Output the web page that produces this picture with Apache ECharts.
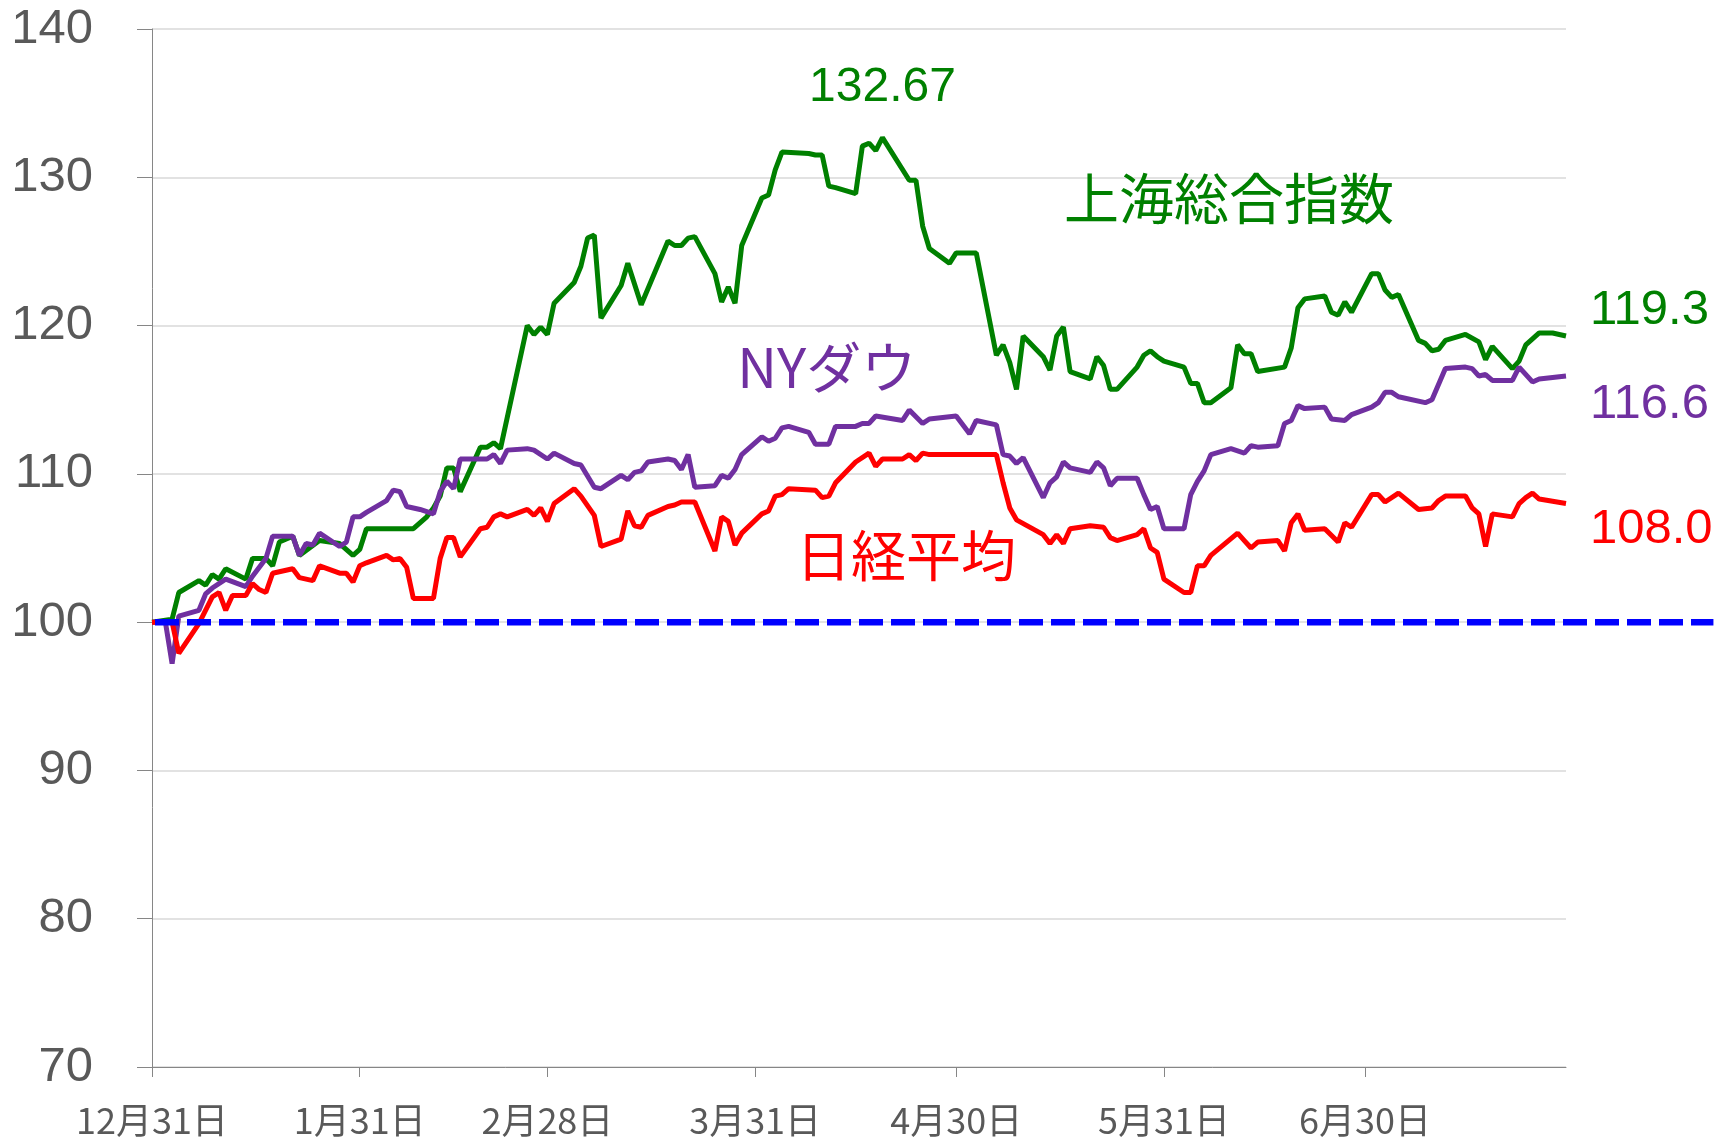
<!DOCTYPE html>
<html>
<head>
<meta charset="utf-8">
<script src="https://cdn.jsdelivr.net/npm/echarts@6/dist/echarts.min.js"></script>
<style>
  html, body { margin: 0; padding: 0; background: #fff; }
  #chart { width: 1729px; height: 1138px; }
</style>
</head>
<body>
<div id="chart"></div>
<script>
// x軸は12月31日からの経過日数
const tickDays = [0, 31, 59, 90, 120, 151, 181];
const tickLabels = ['12月31日', '1月31日', '2月28日', '3月31日', '4月30日', '5月31日', '6月30日'];

// 上海総合指数
const shDays = [0,3,4,7,8,9,10,11,14,15,17,18,19,21,22,25,28,30,31,32,39,41,42,43,44,45,46,49,50,51,52,56,57,58,59,60,63,64,65,66,67,70,71,73,77,78,79,80,81,84,85,86,87,88,91,92,93,94,98,99,100,101,102,105,106,107,108,109,113,114,115,116,119,120,123,126,127,128,129,130,133,134,135,136,137,140,141,142,143,144,147,148,149,150,151,154,155,156,157,158,161,162,163,164,165,169,170,171,172,175,176,177,178,179,182,183,184,185,186,189,190,191,192,193,196,198,199,200,203,204,205,207,209,211];
const shVals = [100,100.2,102.0,102.8,102.5,103.2,102.9,103.6,102.9,104.3,104.3,103.8,105.4,105.8,104.5,105.5,105.3,104.5,104.9,106.3,106.3,107.1,107.7,108.5,110.4,110.4,108.8,111.8,111.8,112.1,111.7,120.0,119.4,119.9,119.4,121.5,122.9,124.0,125.9,126.1,120.5,122.7,124.2,121.4,125.7,125.4,125.4,125.9,126.0,123.5,121.6,122.6,121.5,125.4,128.6,128.8,130.5,131.7,131.6,131.5,131.5,129.4,129.3,128.9,132.1,132.3,131.8,132.67,129.8,129.8,126.7,125.2,124.2,124.9,124.9,118.0,118.7,117.5,115.7,119.3,117.9,117.0,119.3,119.9,116.9,116.4,117.9,117.3,115.7,115.7,117.2,118.0,118.3,117.9,117.6,117.2,116.1,116.1,114.8,114.8,115.8,118.7,118.1,118.1,116.9,117.2,118.5,121.2,121.8,122.0,120.9,120.7,121.6,120.9,123.5,123.5,122.4,121.9,122.1,119.0,118.8,118.3,118.4,119.0,119.4,118.9,117.7,118.6,117.1,117.6,118.7,119.5,119.5,119.3];

// NYダウ
const dwDays = [0,2,3,4,7,8,9,11,14,15,17,18,21,22,23,24,25,28,29,30,31,32,35,36,37,38,40,42,43,44,45,46,50,51,52,53,56,57,59,60,63,64,66,67,70,71,72,73,74,77,78,79,80,81,84,85,86,87,88,91,92,93,94,95,98,99,101,102,105,106,107,108,112,113,115,116,120,122,123,126,127,128,129,130,133,134,135,136,137,140,141,142,143,144,147,148,149,150,151,154,155,156,157,158,161,163,164,165,168,169,170,171,172,175,176,178,179,182,183,184,185,186,190,191,193,196,197,198,199,200,203,204,206,207,211];
const dwVals = [100,100.0,97.2,100.4,100.8,101.9,102.3,102.9,102.4,103.1,104.3,105.8,105.8,104.5,105.3,105.2,106.0,105.1,105.4,107.1,107.1,107.4,108.2,108.9,108.8,107.8,107.6,107.3,108.8,109.5,109.0,111.0,111.0,111.3,110.7,111.6,111.7,111.6,111.0,111.4,110.7,110.6,109.1,109.0,109.9,109.6,110.1,110.2,110.8,111.0,110.9,110.3,111.3,109.1,109.2,109.9,109.7,110.3,111.3,112.5,112.2,112.4,113.1,113.2,112.8,112.0,112.0,113.2,113.2,113.4,113.4,113.9,113.6,114.3,113.4,113.7,113.9,112.7,113.6,113.3,111.3,111.2,110.7,111.1,108.4,109.4,109.8,110.8,110.4,110.1,110.8,110.4,109.2,109.7,109.7,108.6,107.6,107.8,106.3,106.3,108.6,109.5,110.2,111.3,111.7,111.4,111.9,111.8,111.9,113.4,113.6,114.6,114.4,114.5,113.7,113.6,114.0,114.5,114.8,115.5,115.5,115.2,114.8,115.0,117.1,117.2,117.1,116.6,116.7,116.3,116.3,117.2,116.2,116.4,116.6];

// 日経平均
const nkDays = [0,3,4,7,9,10,11,12,14,15,16,17,18,21,22,24,25,28,29,30,31,32,35,36,37,38,39,42,43,44,45,46,49,50,51,52,53,56,57,58,59,60,63,64,66,67,70,71,72,73,74,77,78,79,81,84,85,86,87,88,91,92,93,94,95,99,100,101,102,105,107,108,109,112,113,114,115,116,126,127,128,129,133,134,135,136,137,140,142,143,144,147,148,149,150,151,154,155,156,157,158,162,163,164,165,168,169,170,171,172,175,177,178,179,182,183,184,186,189,191,192,193,196,197,198,199,200,203,204,205,206,207,211];
const nkVals = [100,100,97.9,99.9,101.7,102.0,100.8,101.8,101.8,102.6,102.2,102.0,103.3,103.6,103.0,102.8,103.8,103.3,103.3,102.7,103.8,104.0,104.5,104.2,104.3,103.7,101.6,101.6,104.3,105.7,105.7,104.4,106.3,106.4,107.1,107.3,107.1,107.6,107.2,107.7,106.8,108.0,109.0,108.5,107.2,105.1,105.6,107.5,106.5,106.4,107.2,107.8,107.9,108.1,108.1,104.8,107.1,106.8,105.2,106.0,107.3,107.5,108.5,108.6,109.0,108.9,108.4,108.5,109.4,110.8,111.4,110.5,111.0,111.0,111.3,110.9,111.4,111.3,111.3,109.4,107.7,106.9,105.9,105.3,105.9,105.3,106.3,106.5,106.4,105.7,105.5,105.9,106.3,105.0,104.7,102.9,102.0,102.0,103.8,103.8,104.5,106.0,105.5,105.0,105.4,105.5,104.8,106.7,107.3,106.2,106.3,105.4,106.7,106.4,108.6,108.6,108.1,108.7,107.6,107.7,108.2,108.5,108.5,107.7,107.3,105.1,107.3,107.1,108.0,108.4,108.7,108.3,108.0];

// 基準線(100) ― プロット右端より先まで伸びる
const baseDays = [0, 233];
const baseVals = [100, 100];

const pair = (days, vals) => days.map((d, i) => [d, vals[i]]);

const NUM_FONT = 'Liberation Sans, Arial, sans-serif';
const JP_FONT = 'Noto Sans CJK JP, sans-serif';

// 系列名のラベル(データ座標に置く)
const nameMark = (text, color, coord) => ({
  coord,
  symbol: 'rect',
  symbolSize: 1,
  itemStyle: { color: 'transparent' },
  label: {
    show: true, position: 'inside', formatter: text,
    color, fontSize: 55, fontFamily: JP_FONT
  }
});

const lineSeries = (name, color, days, vals, endOffset, marks, z) => ({
  name,
  type: 'line',
  data: pair(days, vals),
  symbol: 'none',
  z,
  lineStyle: { color, width: 5 },
  itemStyle: { color },
  endLabel: {
    show: true,
    formatter: p => p.value[1].toFixed(1),
    color, fontSize: 49, fontFamily: NUM_FONT,
    distance: 24, offset: [0, endOffset]
  },
  markPoint: { symbol: 'rect', symbolSize: 1, itemStyle: { color: 'transparent' }, data: marks }
});

const chart = echarts.init(document.getElementById('chart'));

chart.setOption({
  animation: false,
  backgroundColor: '#fff',
  grid: { left: 152, right: 163, top: 29, bottom: 71 },
  xAxis: {
    type: 'value',
    min: 0,
    max: 211,
    axisLine: { lineStyle: { color: '#868686', width: 1 } },
    axisTick: { show: true, length: 10, customValues: tickDays, lineStyle: { color: '#868686' } },
    axisLabel: {
      customValues: tickDays,
      formatter: v => tickLabels[tickDays.indexOf(v)],
      fontSize: 36, color: '#595959', margin: 35, fontFamily: JP_FONT
    },
    splitLine: { show: false }
  },
  yAxis: {
    type: 'value',
    min: 70,
    max: 140,
    interval: 10,
    axisLine: { show: true, lineStyle: { color: '#868686', width: 1 } },
    axisTick: { show: true, length: 15, lineStyle: { color: '#868686' } },
    axisLabel: { fontSize: 49, color: '#595959', margin: 59, fontFamily: NUM_FONT },
    splitLine: { lineStyle: { color: '#d9d9d9', width: 1.5 } }
  },
  series: [
    lineSeries('上海総合指数', '#008000', shDays, shVals, -25, [
      {
        type: 'max', valueDim: 'y',
        symbol: 'rect', symbolSize: 1, itemStyle: { color: 'transparent' },
        label: {
          show: true, position: 'inside',
          formatter: p => (Array.isArray(p.value) ? p.value[1] : p.value),
          color: '#008000', fontSize: 48, fontFamily: NUM_FONT, offset: [0, -50]
        }
      },
      nameMark('上海総合指数', '#008000', [160.7, 128.6])
    ], 2),
    lineSeries('NYダウ', '#7030A0', dwDays, dwVals, 28, [
      nameMark('NYダウ', '#7030A0', [100.7, 117.2])
    ], 3),
    lineSeries('日経平均', '#FF0000', nkDays, nkVals, 26, [
      nameMark('日経平均', '#FF0000', [112.5, 104.5])
    ], 4)
  ]
});

// 基準線はグリッドの外まで伸びるので、軸のスケールで位置を求めて描く
const p0 = chart.convertToPixel({ xAxisIndex: 0, yAxisIndex: 0 }, [baseDays[0], baseVals[0]]);
const p1 = chart.convertToPixel({ xAxisIndex: 0, yAxisIndex: 0 }, [baseDays[1], baseVals[1]]);
chart.setOption({
  graphic: [{
    type: 'line',
    z: 100,
    shape: { x1: p0[0] + 3, y1: p0[1], x2: p1[0], y2: p1[1] },
    style: { stroke: '#0000FF', lineWidth: 6.5, lineDash: [24, 8] }
  }]
});
</script>
</body>
</html>
